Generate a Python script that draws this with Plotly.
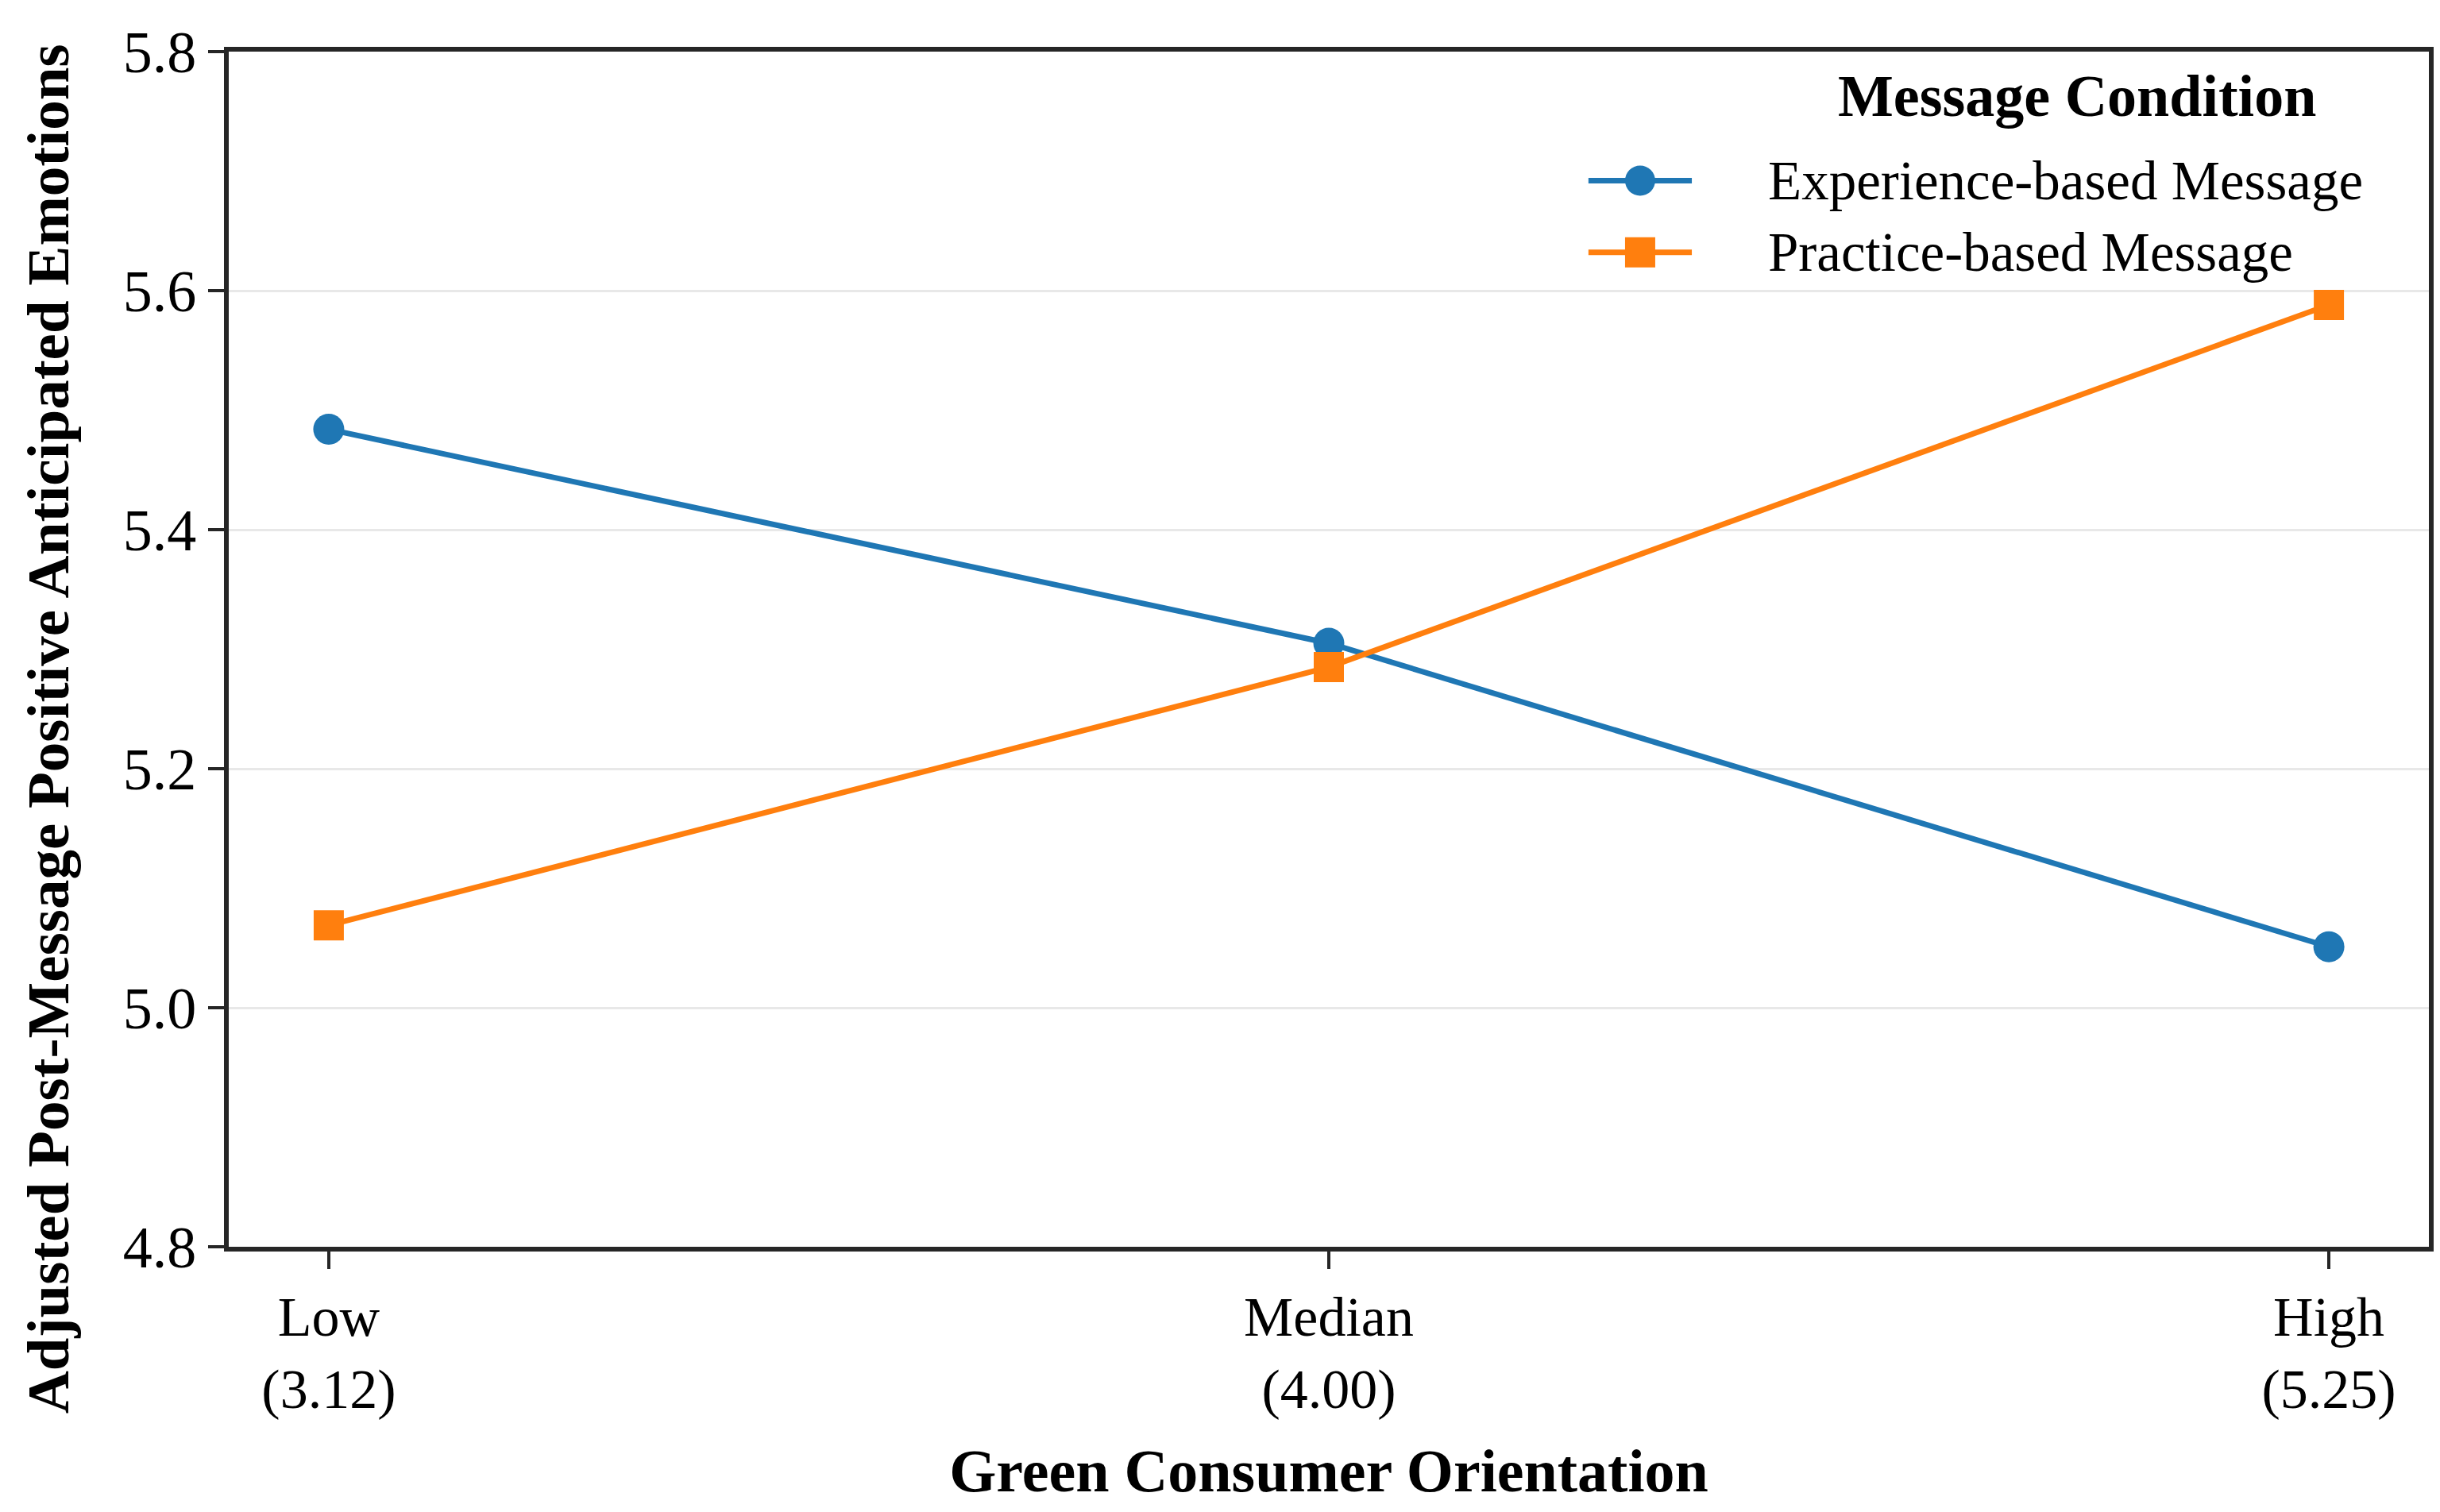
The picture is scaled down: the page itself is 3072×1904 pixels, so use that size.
import plotly.graph_objects as go

# Green consumer orientation levels (moderator values in brackets)
levels = ["Low", "Median", "High"]
level_scores = ["3.12", "4.00", "5.25"]

# Adjusted post-message positive anticipated emotions
experience_vals = [5.484, 5.305, 5.051]
practice_vals = [5.069, 5.285, 5.588]

series_names = ["Experience-based Message", "Practice-based Message"]
y_ticks = [4.8, 5.0, 5.2, 5.4, 5.6, 5.8]

SERIF = "Liberation Serif, Times New Roman, serif"
BLUE = "#1f77b4"
ORANGE = "#ff7f0e"
AXIS = "#262626"


def add_legend(fig):
    # matplotlib-style legend drawn by hand so the symbols keep their full size
    fig.add_shape(type="rect", xref="paper", yref="paper",
                  x0=0.676, x1=0.969, y0=0.797, y1=0.985,
                  fillcolor="white", line_width=0, layer="between")
    fig.add_annotation(text="<b>Message Condition</b>", xref="paper", yref="paper",
                       x=0.84, y=0.963, xanchor="center", yanchor="middle",
                       showarrow=False,
                       font=dict(family=SERIF, size=74, color="black"))

    rows = [(0.892, BLUE, "circle"), (0.832, ORANGE, "rect")]
    for name, (yy, color, shape) in zip(series_names, rows):
        fig.add_shape(type="line", xref="paper", yref="paper",
                      x0=0.618, x1=0.665, y0=yy, y1=yy,
                      line=dict(color=color, width=7))
        fig.add_shape(type=shape, xref="paper", yref="paper",
                      xsizemode="pixel", ysizemode="pixel",
                      xanchor=0.6415, yanchor=yy,
                      x0=-19, x1=19, y0=-19, y1=19,
                      fillcolor=color, line_width=0)
        fig.add_annotation(text=name, xref="paper", yref="paper",
                           x=0.699, y=yy, xanchor="left", yanchor="middle",
                           showarrow=False,
                           font=dict(family=SERIF, size=69, color="black"))


def build_figure():
    x_labels = [f"{lvl}<br>({s})" for lvl, s in zip(levels, level_scores)]

    fig = go.Figure()

    fig.add_trace(go.Scatter(
        x=x_labels,
        y=experience_vals,
        mode="lines+markers",
        name=series_names[0],
        line=dict(color=BLUE, width=7),
        marker=dict(symbol="circle", size=39, color=BLUE),
    ))

    fig.add_trace(go.Scatter(
        x=x_labels,
        y=practice_vals,
        mode="lines+markers",
        name=series_names[1],
        line=dict(color=ORANGE, width=7),
        marker=dict(symbol="square", size=38, color=ORANGE),
    ))

    fig.update_layout(
        width=3072,
        height=1904,
        paper_bgcolor="white",
        plot_bgcolor="white",
        font=dict(family=SERIF, size=70, color="black"),
        margin=dict(l=280, r=22, t=57, b=342),
        showlegend=False,
    )

    fig.update_xaxes(
        type="category",
        range=[-0.1, 2.1],
        showgrid=False,
        showline=True, linecolor=AXIS, linewidth=6, mirror=True,
        ticks="outside", ticklen=22, tickwidth=4, tickcolor=AXIS,
        tickfont=dict(family=SERIF, size=70, color="black"),
        title=dict(text="<b>Green Consumer Orientation</b>",
                   font=dict(family=SERIF, size=76), standoff=40),
    )

    fig.update_yaxes(
        range=[4.8, 5.8],
        tickvals=y_ticks,
        tickformat=".1f",
        showgrid=True, gridcolor="#e8e8e8", gridwidth=3,
        zeroline=False,
        showline=True, linecolor=AXIS, linewidth=6, mirror=True,
        ticks="outside", ticklen=20, tickwidth=4, tickcolor=AXIS,
        tickfont=dict(family=SERIF, size=74, color="black"),
    )

    # y title sits a little below the plot centre in the original
    fig.add_annotation(
        text="<b>Adjusted Post-Message Positive Anticipated Emotions</b>",
        xref="paper", yref="paper", x=-0.0823, y=0.433,
        xanchor="center", yanchor="middle",
        textangle=-90, showarrow=False,
        font=dict(family=SERIF, size=75, color="black"),
    )

    add_legend(fig)
    return fig


def main():
    fig = build_figure()
    fig.write_html("out.html")


if __name__ == "__main__":
    main()
